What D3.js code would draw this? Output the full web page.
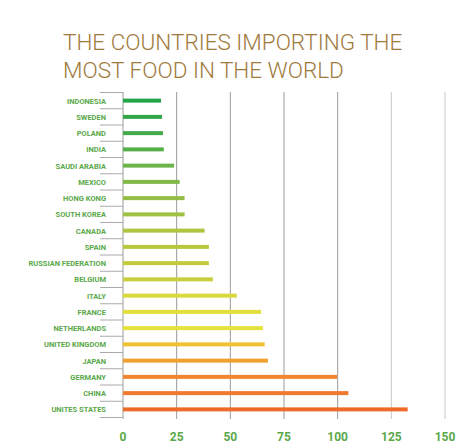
<!DOCTYPE html><html><head><meta charset="utf-8"><script src="https://cdn.jsdelivr.net/npm/d3@7"></script>
<style>body{margin:0;background:#fff}</style></head><body><svg id="c" width="475" height="448"></svg><script>
const countries=["INDONESIA","SWEDEN","POLAND","INDIA","SAUDI ARABIA","MEXICO","HONG KONG","SOUTH KOREA","CANADA","SPAIN","RUSSIAN FEDERATION","BELGIUM","ITALY","FRANCE","NETHERLANDS","UNITED KINGDOM","JAPAN","GERMANY","CHINA","UNITES STATES"];
const values=[17.7,18.2,18.6,19,23.8,26.4,28.7,28.7,38,40,40,41.9,53,64.3,65.2,66,67.5,99.7,105,132.6];
const colors=["#22a447","#33a64a","#44ab4a","#55ae4a","#6cb44a","#80b948","#93bd45","#9dc143","#aec53f","#b7c83d","#c1cb3b","#c9cf3c","#d9d83c","#e0df3c","#e6e23c","#f0c233","#f0a02d","#f28630","#f07a2f","#ee6a2a"];
const ticks=[0,25,50,75,100,125,150];
const svg=d3.select("#c");
const x=d3.scaleLinear().domain([0,150]).range([123,445]);
const y=d3.scaleBand().domain(countries).range([92.5,417.5]);
svg.append("text").attr("x",63).attr("y",50).attr("fill","#a07a3c").attr("font-family","Roboto").attr("font-weight",300).attr("font-size",22.5).text("THE COUNTRIES IMPORTING THE");
svg.append("text").attr("x",63).attr("y",78).attr("fill","#a07a3c").attr("font-family","Roboto").attr("font-weight",300).attr("font-size",22.5).text("MOST FOOD IN THE WORLD");
svg.selectAll(".g").data(ticks.slice(1)).join("line").attr("x1",d=>x(d)).attr("x2",d=>x(d)).attr("y1",92).attr("y2",419).attr("stroke",d=>d>100?"#c8c8c8":"#9a9a9a").attr("stroke-width",1);
svg.append("line").attr("x1",123).attr("x2",123).attr("y1",92).attr("y2",419).attr("stroke","#9a9a9a");
svg.selectAll(".t").data(d3.range(21)).join("line").attr("x1",100).attr("x2",123).attr("y1",i=>92.5+i*y.step()).attr("y2",i=>92.5+i*y.step()).attr("stroke","#aaa");
svg.selectAll(".b").data(countries).join("rect").attr("x",x(0)).attr("y",d=>y(d)+y.bandwidth()/2-2).attr("height",4).attr("width",(d,i)=>x(values[i])-x(0)).attr("fill",(d,i)=>colors[i]);
svg.selectAll(".l").data(countries).join("text").attr("x",106).attr("y",d=>y(d)+y.bandwidth()/2+3).attr("text-anchor","end").attr("fill","#5aa84a").attr("font-family","Roboto").attr("font-weight",700).attr("font-size",7.5).text(d=>d);
svg.selectAll(".x").data(ticks).join("text").attr("x",d=>x(d)).attr("y",441).attr("text-anchor","middle").attr("fill","#5aa84a").attr("font-family","Roboto").attr("font-weight",700).attr("font-size",12).text(d=>d);
</script></body></html>
